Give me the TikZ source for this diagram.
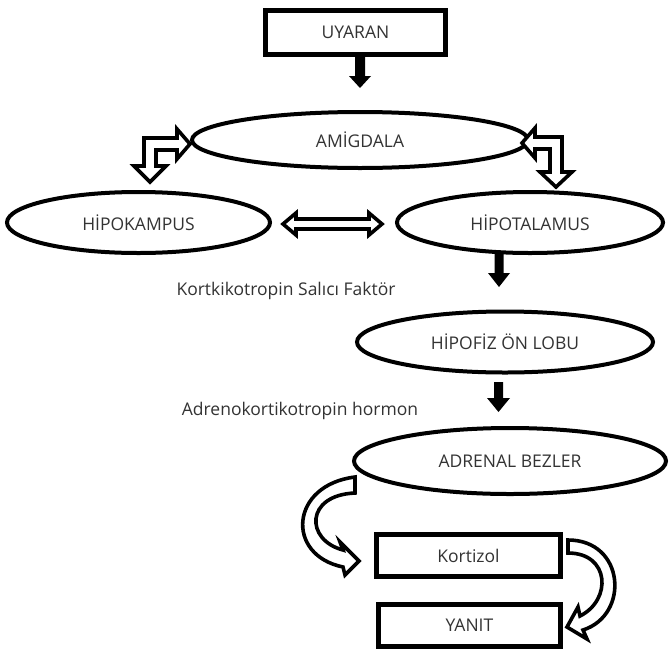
\documentclass[tikz,border=0pt]{standalone}
\usepackage{fontspec}
\setmainfont{Open Sans}
\usetikzlibrary{shapes.geometric}
\begin{document}
\begin{tikzpicture}[x=1pt,y=-1pt,
  ell/.style={draw,ellipse,line width=4pt,inner sep=0pt,font=\fontsize{17.5}{20}\selectfont,text=black!80},
  box/.style={draw,rectangle,line width=5pt,inner sep=0pt,font=\fontsize{17.5}{20}\selectfont,text=black!80},
  lbl/.style={font=\fontsize{17.5}{20}\selectfont,text=black!80,inner sep=0pt},
  hollow/.style={draw,fill=white,line width=3.6pt,line join=miter},
  solidarrow/.style={fill=black}]
\useasboundingbox[fill=white] (0,0) rectangle (671,656);

% nodes
\node[box,minimum width=180pt,minimum height=44pt] (uyaran) at (355.5,32.5) {UYARAN};
\node[ell,minimum width=336pt,minimum height=56pt] (amig) at (360,140) {AMİGDALA};
\node[ell,minimum width=263pt,minimum height=61pt] (hipok) at (138.5,222.5) {HİPOKAMPUS};
\node[ell,minimum width=266pt,minimum height=61pt] (hipot) at (530,222.5) {HİPOTALAMUS};
\node[ell,minimum width=296pt,minimum height=61pt] (hipof) at (505,342) {HİPOFİZ ÖN LOBU};
\node[ell,minimum width=312pt,minimum height=66pt] (adr) at (510,461) {ADRENAL BEZLER};
\node[box,minimum width=184pt,minimum height=42pt] (kort) at (468.5,555.5) {Kortizol};
\node[box,minimum width=182pt,minimum height=42pt] (yanit) at (469.5,625) {YANIT};
\node[lbl] (crf) at (286,291) {Kortkikotropin Salıcı Faktör};
\node[lbl] (acth) at (300,411) {Adrenokortikotropin hormon};

% solid block arrows
\fill[solidarrow] (355,54) -- (365,54) -- (365,76) -- (371,76) -- (360,88) -- (349,76) -- (355,76) -- cycle;
\fill[solidarrow] (494.5,254) -- (503.5,254) -- (503.5,273) -- (510,273) -- (499,287) -- (488,273) -- (494.5,273) -- cycle;
\fill[solidarrow] (494,382) -- (503,382) -- (503,398) -- (510,398) -- (498.5,412) -- (487,398) -- (494,398) -- cycle;

% hollow elbow arrows
\filldraw[hollow] (190,144) -- (177,129) -- (177,138) -- (144,138) -- (144,166) -- (134,166) -- (150,182) -- (166,166) -- (156,166) -- (156,150) -- (177,150) -- (177,159) -- cycle;
\filldraw[hollow] (522,143) -- (535,128) -- (535,137) -- (562,137) -- (562,172) -- (572,172) -- (556,187) -- (540,172) -- (550,172) -- (550,149) -- (535,149) -- (535,158) -- cycle;

% horizontal double arrow
\filldraw[hollow] (283,224) -- (296,213) -- (296,219) -- (369,219) -- (369,213) -- (382,224) -- (369,235) -- (369,229) -- (296,229) -- (296,235) -- cycle;

% curved arrows
\filldraw[hollow] (355,477) .. controls (290,485) and (285,555) .. (343,567) -- (345,575) -- (359,561) -- (340,542) -- (343,550) .. controls (305,540) and (305,495) .. (355,493) -- cycle;
\filldraw[hollow] (568,540) .. controls (625,540) and (630,615) .. (583,630) -- (587,639) -- (567,627) -- (578,607) -- (580,616) .. controls (612,600) and (610,553) .. (568,553) -- cycle;
\end{tikzpicture}
\end{document}
